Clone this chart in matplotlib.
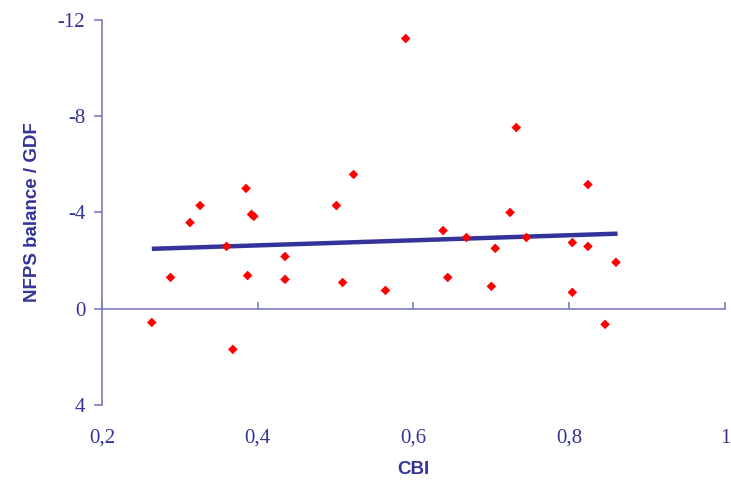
import matplotlib.pyplot as plt
from matplotlib.ticker import FuncFormatter

# CBI vs NFPS balance / GDF
cbi = [0.264, 0.288, 0.313, 0.326, 0.360, 0.368, 0.385, 0.387, 0.392, 0.395,
       0.435, 0.435, 0.501, 0.509, 0.523, 0.564, 0.590, 0.638, 0.644, 0.668,
       0.700, 0.705, 0.724, 0.732, 0.745, 0.804, 0.804, 0.824, 0.824, 0.846,
       0.860]
nfps = [0.57, -1.30, -3.58, -4.29, -2.59, 1.69, -5.00, -1.38, -3.92, -3.84,
        -2.17, -1.22, -4.29, -1.09, -5.58, -0.76, -11.23, -3.25, -1.30, -2.96,
        -0.93, -2.51, -4.00, -7.53, -2.96, -2.75, -0.68, -5.16, -2.59, 0.65,
        -1.93]
# trend line ends
trend_x = [0.264, 0.862]
trend_y = [-2.49, -3.12]

xticks = [0.2, 0.4, 0.6, 0.8, 1.0]
yticks = [-12, -8, -4, 0, 4]

plt.rcParams['font.family'] = ['Liberation Serif', 'DejaVu Serif']

txt = '#333399'
axc = '#7a7abf'
lab_font = ['Liberation Sans Narrow', 'Liberation Sans']

fig = plt.figure(figsize=(7.31, 4.82), dpi=100)
ax = fig.add_axes([0.1395, 0.1598, 0.8523, 0.7987])

ax.plot(trend_x, trend_y, color='#333399', lw=3.2, solid_capstyle='butt', zorder=2)
ax.scatter(cbi, nfps, marker='D', s=24, color='#ff0000', edgecolors='none', zorder=3)

ax.set_xlim(0.2, 1.0)
ax.set_ylim(4, -12)
ax.set_xticks(xticks)
ax.set_yticks(yticks)

for s in ['top', 'right']:
    ax.spines[s].set_visible(False)
ax.spines['bottom'].set_position(('data', 0))
ax.spines['left'].set_color(axc)
ax.spines['bottom'].set_color(axc)
ax.spines['left'].set_linewidth(1.2)
ax.spines['bottom'].set_linewidth(1.2)

ax.tick_params(axis='x', direction='in', length=5, width=1.2, color=axc, labelbottom=False)
ax.tick_params(axis='y', direction='out', length=6, width=1.2, color=axc, pad=6,
               labelcolor=txt, labelsize=15)
fmt = FuncFormatter(lambda v, p: f'{v:g}'.replace('.', ','))
ax.yaxis.set_major_formatter(fmt)

sec = ax.secondary_xaxis('bottom')
sec.set_xticks(xticks)
sec.xaxis.set_major_formatter(fmt)
sec.spines['bottom'].set_visible(False)
sec.tick_params(length=0, pad=17, labelcolor=txt, labelsize=15)

ax.set_ylabel('NFPS balance / GDF', color=txt, fontsize=13.5, family=lab_font,
              fontweight='bold', labelpad=12)
sec.set_xlabel('CBI', color=txt, fontsize=13.5, family=lab_font,
               fontweight='bold', labelpad=10)

fig.savefig('out.png', dpi=100)
